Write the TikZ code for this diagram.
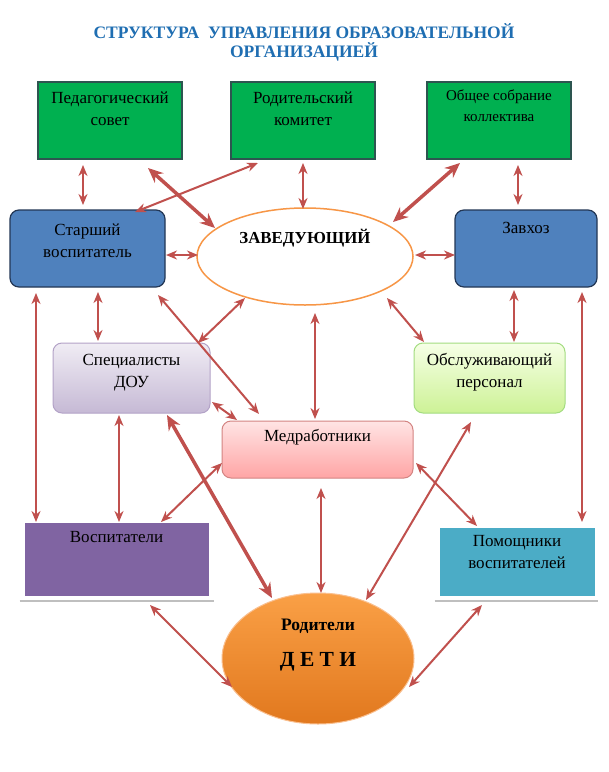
\documentclass[tikz,border=0pt]{standalone}
\usepackage{fontspec}
\setmainfont{Liberation Serif}
\usetikzlibrary{arrows.meta,shapes.geometric}
\definecolor{titleblue}{RGB}{31,110,178}
\definecolor{grn}{RGB}{0,176,80}
\definecolor{grnborder}{RGB}{45,85,80}
\definecolor{bluebox}{RGB}{79,129,189}
\definecolor{blueborder}{RGB}{35,55,85}
\definecolor{orng}{RGB}{247,150,70}
\definecolor{arr}{RGB}{192,80,77}
\definecolor{purp}{RGB}{128,100,162}
\definecolor{teal}{RGB}{75,172,198}
\tikzset{
  greenbox/.style={draw=grnborder,line width=1.5pt,fill=grn,minimum width=144pt,minimum height=77pt,inner sep=0pt},
  bluebx/.style={draw=blueborder,line width=1.2pt,fill=bluebox,rounded corners=9pt,minimum height=77pt,inner sep=0pt},
  txt/.style={align=center,inner sep=0pt,font=\fontsize{17}{22}\selectfont},
  link/.style={draw=arr,line width=2pt,{Stealth[length=11pt,width=9pt,inset=3.5pt]}-{Stealth[length=11pt,width=9pt,inset=3.5pt]}},
  thicklink/.style={draw=arr,line width=3.5pt,{Stealth[length=15pt,width=13pt,inset=5pt]}-{Stealth[length=15pt,width=13pt,inset=5pt]}},
  shadowline/.style={draw=black!25,line width=2pt}
}
\begin{document}
\begin{tikzpicture}[x=1pt,y=-1pt]
\useasboundingbox (0,0) rectangle (609,772);
\fill[white] (0,0) rectangle (609,772);
% title
\node[font=\fontsize{17.5}{19}\selectfont\bfseries,text=titleblue,align=center,inner sep=0pt] (title) at (304,42.5)
  {СТРУКТУРА\ \ УПРАВЛЕНИЯ ОБРАЗОВАТЕЛЬНОЙ\\ОРГАНИЗАЦИЕЙ};
% top green boxes
\node[greenbox] (ped) at (110,120.5) {};
\node[greenbox] (rod) at (303,120.5) {};
\node[greenbox] (obsh) at (499,120.5) {};
\node[txt] (pedT) at ([shift={(0,-11.5)}]ped.center) {Педагогический\\совет};
\node[txt] (rodT) at ([shift={(0,-11.5)}]rod.center) {Родительский\\комитет};
\node[txt,font=\fontsize{15}{21}\selectfont] (obshT) at ([shift={(0,-15)}]obsh.center) {Общее собрание\\коллектива};
% second row
\node[bluebx,minimum width=155pt] (star) at (87.5,248.5) {};
\node[bluebx,minimum width=142pt] (zavh) at (526,248.5) {};
\node[ellipse,draw=orng,line width=1.5pt,fill=white,minimum width=216pt,minimum height=97pt,inner sep=0pt] (zav) at (305,256.5) {};
\node[txt] (starT) at ([shift={(0,-7.5)}]star.center) {Старший\\воспитатель};
\node[txt] (zavhT) at ([shift={(0,-20.5)}]zavh.center) {Завхоз};
\node[txt,font=\fontsize{16.8}{17}\selectfont\bfseries] (zavT) at ([shift={(0,-18.5)}]zav.center) {ЗАВЕДУЮЩИЙ};
% third row
\node[draw=purp!60,line width=1pt,rounded corners=9pt,top color=purp!12,bottom color=purp!45,minimum width=157pt,minimum height=70pt,inner sep=0pt] (spec) at (131.5,378) {};
\node[draw=green!45!olive!50,line width=1pt,rounded corners=9pt,top color={rgb,255:red,246;green,255;blue,230},bottom color={rgb,255:red,205;green,242;blue,150},minimum width=151pt,minimum height=70pt,inner sep=0pt] (obsl) at (489.5,378) {};
\node[draw=arr!70,line width=1pt,rounded corners=9pt,top color={rgb,255:red,255;green,228;blue,228},bottom color={rgb,255:red,255;green,165;blue,165},minimum width=191pt,minimum height=57pt,inner sep=0pt] (med) at (317.5,449.5) {};
\node[txt] (specT) at ([shift={(0,-5.5)}]spec.center) {Специалисты\\ДОУ};
\node[txt] (obslT) at ([shift={(0,-6)}]obsl.center) {Обслуживающий\\персонал};
\node[txt] (medT) at ([shift={(0,-12.5)}]med.center) {Медработники};
% fourth row
\node[draw=white,line width=1pt,fill=purp,minimum width=185pt,minimum height=74pt,inner sep=0pt] (vosp) at (116.5,559.5) {};
\node[draw=white,line width=1pt,fill=teal,minimum width=156pt,minimum height=69pt,inner sep=0pt] (pom) at (517,562) {};
\draw[shadowline] ([shift={(-4,4)}]vosp.south west) -- ([shift={(4,4)}]vosp.south east);
\draw[shadowline] ([shift={(-4,4)}]pom.south west) -- ([shift={(2,4)}]pom.south east);
\node[txt] (vospT) at ([shift={(0,-22.5)}]vosp.center) {Воспитатели};
\node[txt] (pomT) at ([shift={(0,-9.5)}]pom.center) {Помощники\\воспитателей};
% parents / children
\node[ellipse,draw=orng!60,line width=1pt,top color={rgb,255:red,250;green,160;blue,70},bottom color={rgb,255:red,225;green,120;blue,30},minimum width=192pt,minimum height=131pt,inner sep=0pt] (par) at (318,658.5) {};
\node[txt,font=\fontsize{17.5}{18}\selectfont\bfseries] (parT) at ([shift={(0,-32.5)}]par.center) {Родители};
\node[txt,font=\fontsize{21.5}{24}\selectfont\bfseries] (detT) at ([shift={(0,3.5)}]par.center) {Д Е Т И};
% connectors
\draw[link] ([shift={(-27,44.5)}]ped.center) -- ([shift={(-4.5,-43.5)}]star.center);
\draw[thicklink] ([shift={(38,47.5)}]ped.center) -- ([shift={(-90,-28.5)}]zav.center);
\draw[link] ([shift={(-45,42.5)}]rod.center) -- ([shift={(47.5,-36.5)}]star.center);
\draw[link] ([shift={(0,42.5)}]rod.center) -- ([shift={(-2,-47.5)}]zav.center);
\draw[thicklink] ([shift={(-39,42.5)}]obsh.center) -- ([shift={(88,-34.5)}]zav.center);
\draw[link] ([shift={(19,44.5)}]obsh.center) -- ([shift={(-8,-43.5)}]zavh.center);
\draw[link] ([shift={(78.5,6.5)}]star.center) -- ([shift={(-107,-1.5)}]zav.center);
\draw[link] ([shift={(110,-1.5)}]zav.center) -- ([shift={(-71,6.5)}]zavh.center);
\draw[link] ([shift={(10.5,43.5)}]star.center) -- ([shift={(-33.5,-37)}]spec.center);
\draw[link] ([shift={(-60,41.5)}]zav.center) -- ([shift={(66.5,-35)}]spec.center);
\draw[link] ([shift={(70.5,46.5)}]star.center) -- ([shift={(-58.5,-35.5)}]med.center);
\draw[link] ([shift={(10,56.5)}]zav.center) -- ([shift={(-2.5,-30.5)}]med.center);
\draw[link] ([shift={(82,41.5)}]zav.center) -- ([shift={(-65.5,-36)}]obsl.center);
\draw[link] ([shift={(-12,41.5)}]zavh.center) -- ([shift={(24.5,-36)}]obsl.center);
\draw[link] ([shift={(-51.5,44.5)}]star.center) -- ([shift={(-80.5,-37.5)}]vosp.center);
\draw[link] ([shift={(56,43.5)}]zavh.center) -- ([shift={(65,-40)}]pom.center);
\draw[link] ([shift={(-12.5,37)}]spec.center) -- ([shift={(2.5,-37.5)}]vosp.center);
\draw[thicklink] ([shift={(35.5,37)}]spec.center) -- ([shift={(-46,-60.5)}]par.center);
\draw[link] ([shift={(80.5,24)}]spec.center) -- ([shift={(-80.5,-29.5)}]med.center);
\draw[link] ([shift={(-95.5,13.5)}]med.center) -- ([shift={(44.5,-37.5)}]vosp.center);
\draw[link] ([shift={(3.5,38.5)}]med.center) -- ([shift={(3,-65.5)}]par.center);
\draw[link] ([shift={(-18.5,44)}]obsl.center) -- ([shift={(48,-58.5)}]par.center);
\draw[link] ([shift={(98.5,13.5)}]med.center) -- ([shift={(-40,-36)}]pom.center);
\draw[link] ([shift={(33.5,45.5)}]vosp.center) -- ([shift={(-86,28.5)}]par.center);
\draw[link] ([shift={(-35,43)}]pom.center) -- ([shift={(91,28.5)}]par.center);
\end{tikzpicture}
\end{document}
